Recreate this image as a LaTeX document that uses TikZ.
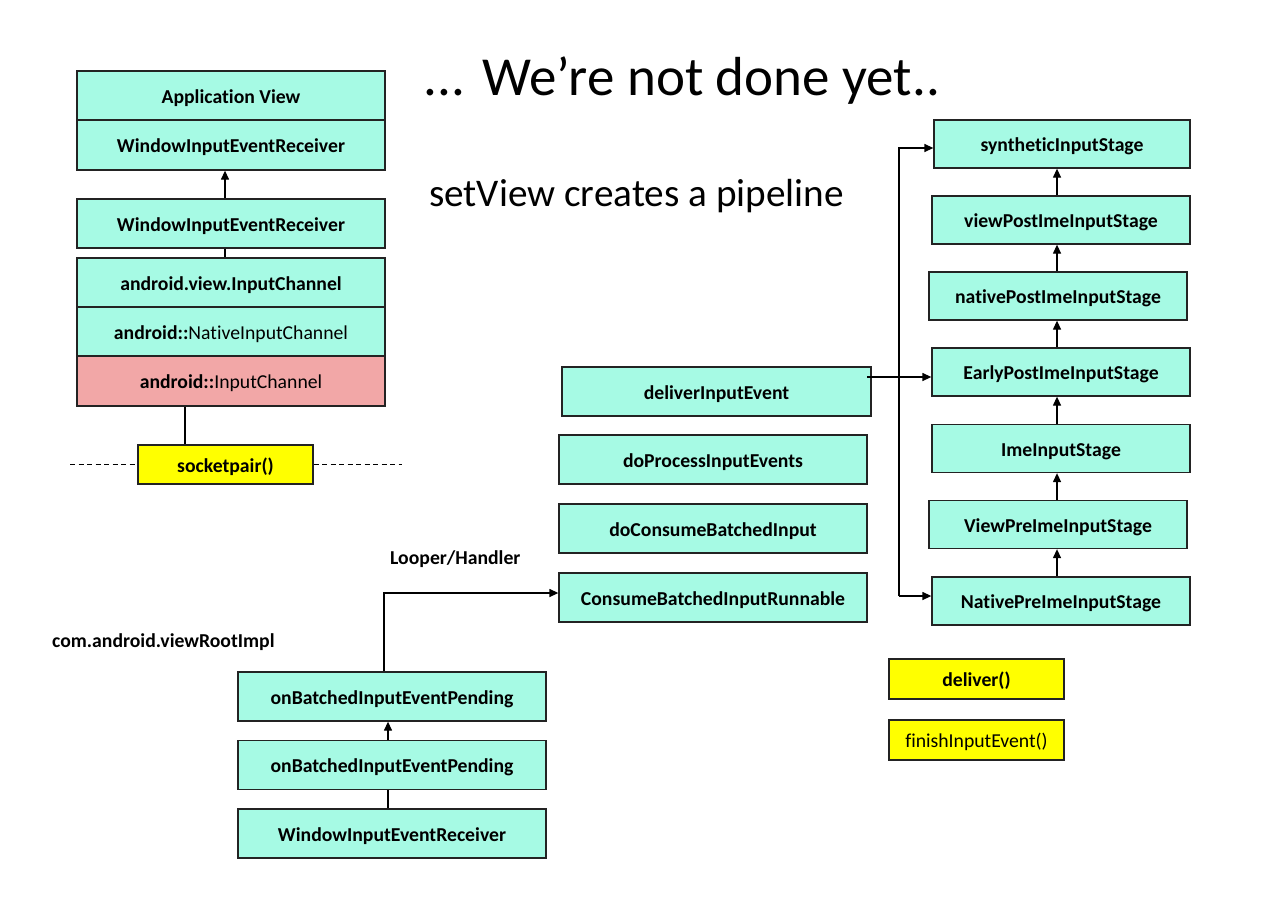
\documentclass[tikz,border=0pt]{standalone}
\usepackage{fontspec}
\setmainfont[Ligatures=NoCommon]{Carlito}
\usetikzlibrary{arrows.meta}
\definecolor{mint}{RGB}{166,250,228}
\definecolor{pinkc}{RGB}{242,167,167}
\definecolor{yel}{RGB}{255,255,0}
\definecolor{edgec}{RGB}{35,35,35}
\begin{document}
\begin{tikzpicture}[x=1pt,y=-1pt,
  box/.style={draw=edgec, line width=1.3pt, fill=mint, inner sep=0pt,
    text height=15pt, text depth=0pt,
    font=\fontsize{19.7}{23}\selectfont\bfseries},
  sz/.style 2 args={minimum width=#1pt, minimum height=#2pt},
  pinkbox/.style={box, fill=pinkc},
  yelbox/.style={box, fill=yel},
  conn/.style={line width=1.3pt, draw=black},
  arr/.style={conn, -{Triangle[length=9pt,width=8pt]}},
  lbl/.style={inner sep=0pt, font=\fontsize{19.7}{23}\selectfont\bfseries},
]
\useasboundingbox[fill=white] (0,0) rectangle (1268,923);

% titles
\node[inner sep=0pt, anchor=base, font=\fontsize{55}{60}\selectfont] (title) at (682,96) {... We’re not done yet..};
\node[inner sep=0pt, anchor=base west, font=\fontsize{39.2}{44}\selectfont] (sub) at (429,206) {setView creates a pipeline};

% left stack
\node[box, sz={308}{49}] (av) at (231,95.5) {Application View};
\node[box, sz={308}{50}] (wier1) at (231,145) {WindowInputEventReceiver};
\node[box, sz={308}{49}] (wier2) at (231,223.5) {WindowInputEventReceiver};
\node[box, sz={308}{49}] (ic) at (231,282.5) {android.view.InputChannel};
\node[box, sz={308}{49}] (nic) at (231,331.5) {android::{\mdseries NativeInputChannel}};
\node[pinkbox, sz={308}{50}] (aic) at (231,381) {android::{\mdseries InputChannel}};
\node[yelbox, sz={175}{39}] (sp) at (225.5,464.5) {socketpair()};
\coordinate (dl) at (70,464.5);
\coordinate (dr) at (402,464.5);
\coordinate (lx) at (225,0);
\coordinate (px) at (185,0);

\draw[arr] (wier2.north -| lx) -- (wier1.south -| lx);
\draw[conn] (wier2.south -| lx) -- (ic.north -| lx);
\draw[conn] (aic.south -| px) -- (sp.north -| px);
\draw[conn, dashed, dash pattern=on 5pt off 3.5pt] (dl) -- (sp.west);
\draw[conn, dashed, dash pattern=on 5pt off 3.5pt] (sp.east) -- (dr);

% middle
\node[box, sz={309}{49}] (die) at (716.5,391.5) {deliverInputEvent};
\node[box, sz={308}{49}] (dpie) at (713,459.5) {doProcessInputEvents};
\node[box, sz={308}{49}] (dcbi) at (713,528.5) {doConsumeBatchedInput};
\node[box, sz={308}{49}] (cbir) at (713,597.5) {ConsumeBatchedInputRunnable};

% right stack
\node[box, sz={256}{48}] (syn) at (1062,144) {syntheticInputStage};
\node[box, sz={258}{48}] (vpi) at (1061,220) {viewPostImeInputStage};
\node[box, sz={258}{48}] (npi) at (1058,296) {nativePostImeInputStage};
\node[box, sz={258}{48}] (epi) at (1061,372) {EarlyPostImeInputStage};
\node[box, sz={258}{48}] (ime) at (1061,448.5) {ImeInputStage};
\node[box, sz={258}{48}] (vpre) at (1058,524.5) {ViewPreImeInputStage};
\node[box, sz={258}{48}] (npre) at (1061,601) {NativePreImeInputStage};
\coordinate (ax) at (1057,0);
\draw[arr] (npre.north -| ax) -- (vpre.south -| ax);
\draw[arr] (vpre.north -| ax) -- (ime.south -| ax);
\draw[arr] (ime.north -| ax) -- (epi.south -| ax);
\draw[arr] (epi.north -| ax) -- (npi.south -| ax);
\draw[arr] (npi.north -| ax) -- (vpi.south -| ax);
\draw[arr] (vpi.north -| ax) -- (syn.south -| ax);

\coordinate (btop) at (899,148);
\coordinate (bbot) at (899,596);
\coordinate (dout) at (867,377);
\draw[arr] (bbot) -- (btop) -- (btop -| syn.west);
\draw[arr] (btop |- bbot) -- (bbot -| npre.west);
\draw[arr] (dout) -- (dout -| epi.west);

\node[yelbox, sz={175}{40}] (dlv) at (976.5,679) {deliver()};
\node[yelbox, sz={175}{40}, font=\fontsize{19.7}{23}\selectfont] (fie) at (976.5,740) {finishInputEvent()};

% bottom
\node[box, sz={308}{49}] (obp1) at (392,696.5) {onBatchedInputEventPending};
\node[box, sz={308}{49}] (obp2) at (392,765) {onBatchedInputEventPending};
\node[box, sz={308}{49}] (wier3) at (392,833.5) {WindowInputEventReceiver};
\coordinate (bx) at (388,0);
\draw[arr] (obp2.north -| bx) -- (obp1.south -| bx);
\draw[conn] (wier3.north -| bx) -- (obp2.south -| bx);
\coordinate (lh) at (384,593);
\draw[arr] (obp1.north -| lh) -- (lh) -- (lh -| cbir.west);

\node[lbl, anchor=west] (looper) at (390,559) {Looper/Handler};
\node[lbl, anchor=west] (vri) at (52,642) {com.android.viewRootImpl};
\end{tikzpicture}
\end{document}
